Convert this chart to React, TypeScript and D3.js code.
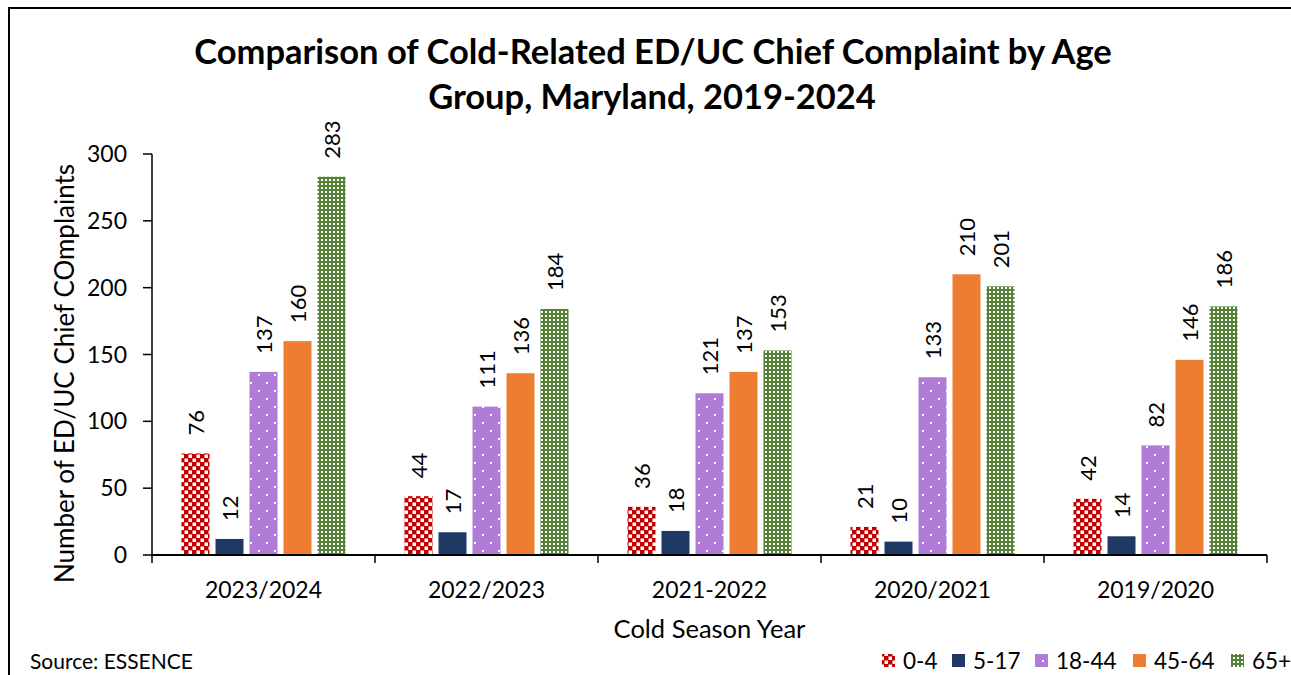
import React from 'react';
import * as d3 from 'd3';

const seasons = ['2023/2024', '2022/2023', '2021-2022', '2020/2021', '2019/2020'];
const ageGroups = ['0-4', '5-17', '18-44', '45-64', '65+'];
const age0to4 = [76, 44, 36, 21, 42];
const age5to17 = [12, 17, 18, 10, 14];
const age18to44 = [137, 111, 121, 133, 82];
const age45to64 = [160, 136, 137, 210, 146];
const age65plus = [283, 184, 153, 201, 186];
const yTicks = [0, 50, 100, 150, 200, 250, 300];

const series = [age0to4, age5to17, age18to44, age45to64, age65plus];
const fills = ['url(#pRed)', '#1F3864', 'url(#pPurple)', '#ED7D31', 'url(#pGreen)'];

const FONT = 'Lato, "Open Sans", sans-serif';
const W = 1291;
const H = 675;
const margin = { left: 152, right: 24, top: 154, bottom: 120 };

// legend swatch left edges
const legendX = [882, 952, 1035, 1133, 1231];

const App = () => {
  const plotW = W - margin.left - margin.right;
  const plotH = H - margin.top - margin.bottom;

  const x0 = d3.scaleBand().domain(seasons).range([0, plotW]).paddingInner(0).paddingOuter(0);
  const x1 = d3.scaleBand().domain(ageGroups).range([0, 164]).paddingInner(6 / 34).paddingOuter(0);
  const groupOffset = (x0.bandwidth() - 164) / 2;
  const y = d3.scaleLinear().domain([0, 300]).range([plotH, 0]);

  return (
    <div style={{ position: 'absolute', left: 0, top: 0 }}>
      <svg width={W} height={H} style={{ display: 'block', fontFamily: FONT }}>
        <defs>
          <pattern id="pRed" width="8" height="8" patternUnits="userSpaceOnUse">
            <rect width="8" height="8" fill="#C00000" />
            <rect x="0.5" y="0.5" width="3.5" height="3.5" fill="#fff" />
            <rect x="4.5" y="4.5" width="3.5" height="3.5" fill="#fff" />
          </pattern>
          <pattern id="pPurple" width="16" height="16" patternUnits="userSpaceOnUse">
            <rect width="16" height="16" fill="#B07CD8" />
            <rect x="2" y="4" width="2" height="2" fill="#fff" />
            <rect x="10" y="12" width="2" height="2" fill="#fff" />
          </pattern>
          <pattern id="pGreen" width="4" height="4" patternUnits="userSpaceOnUse">
            <rect width="4" height="4" fill="#548235" />
            <rect x="1" y="1" width="2" height="2" fill="#fff" />
          </pattern>
        </defs>

        <rect x={9} y={8} width={W + 10} height={H + 10} fill="#fff" stroke="#000" strokeWidth={2} />

        <text x={653} y={64} textAnchor="middle" fontSize={34.5} fontWeight="bold" fill="#000">
          Comparison of Cold-Related ED/UC Chief Complaint by Age
        </text>
        <text x={652} y={109} textAnchor="middle" fontSize={34.5} fontWeight="bold" fill="#000">
          Group, Maryland, 2019-2024
        </text>

        <g transform={`translate(${margin.left},${margin.top})`}>
          {series.map((vals, si) =>
            vals.map((v, ci) => {
              const bx = x0(seasons[ci])! + groupOffset + x1(ageGroups[si])!;
              const bw = x1.bandwidth();
              return (
                <g key={`${si}-${ci}`}>
                  <rect x={bx} y={y(v)} width={bw} height={plotH - y(v)} fill={fills[si]} />
                  <text
                    transform={`translate(${bx + bw / 2 + 8},${y(v) - 18}) rotate(-90)`}
                    fontSize={22}
                    fill="#000"
                  >
                    {v}
                  </text>
                </g>
              );
            })
          )}

          <line x1={0} x2={0} y1={0} y2={plotH} stroke="#000" strokeWidth={1.5} />
          {yTicks.map(t => (
            <g key={t}>
              <line x1={-9} x2={0} y1={y(t)} y2={y(t)} stroke="#000" strokeWidth={1.5} />
              <text x={-25} y={y(t) + 8} textAnchor="end" fontSize={23} fill="#000">{t}</text>
            </g>
          ))}

          <line x1={0} x2={plotW} y1={plotH} y2={plotH} stroke="#000" strokeWidth={2} />
          {d3.range(seasons.length + 1).map(i => (
            <line key={i} x1={i * x0.bandwidth()} x2={i * x0.bandwidth()} y1={plotH} y2={plotH + 8} stroke="#000" strokeWidth={1.5} />
          ))}
          {seasons.map(s => (
            <text key={s} x={x0(s)! + x0.bandwidth() / 2} y={plotH + 43} textAnchor="middle" fontSize={23} fill="#000">{s}</text>
          ))}

          <text x={plotW / 2} y={plotH + 83} textAnchor="middle" fontSize={25.5} fill="#000">Cold Season Year</text>
          <text transform={`translate(-78,${plotH / 2 + 19}) rotate(-90)`} textAnchor="middle" fontSize={26} fill="#000">
            Number of ED/UC Chief COmplaints
          </text>
        </g>

        <text x={30} y={669} fontSize={21} fill="#000">Source: ESSENCE</text>

        {legendX.map((lx, i) => (
          <g key={ageGroups[i]}>
            <rect x={lx} y={654} width={13} height={13} fill={fills[i]} />
            <text x={lx + 21} y={669} fontSize={22.5} fill="#000">{ageGroups[i]}</text>
          </g>
        ))}
      </svg>
    </div>
  );
};

export default App;
